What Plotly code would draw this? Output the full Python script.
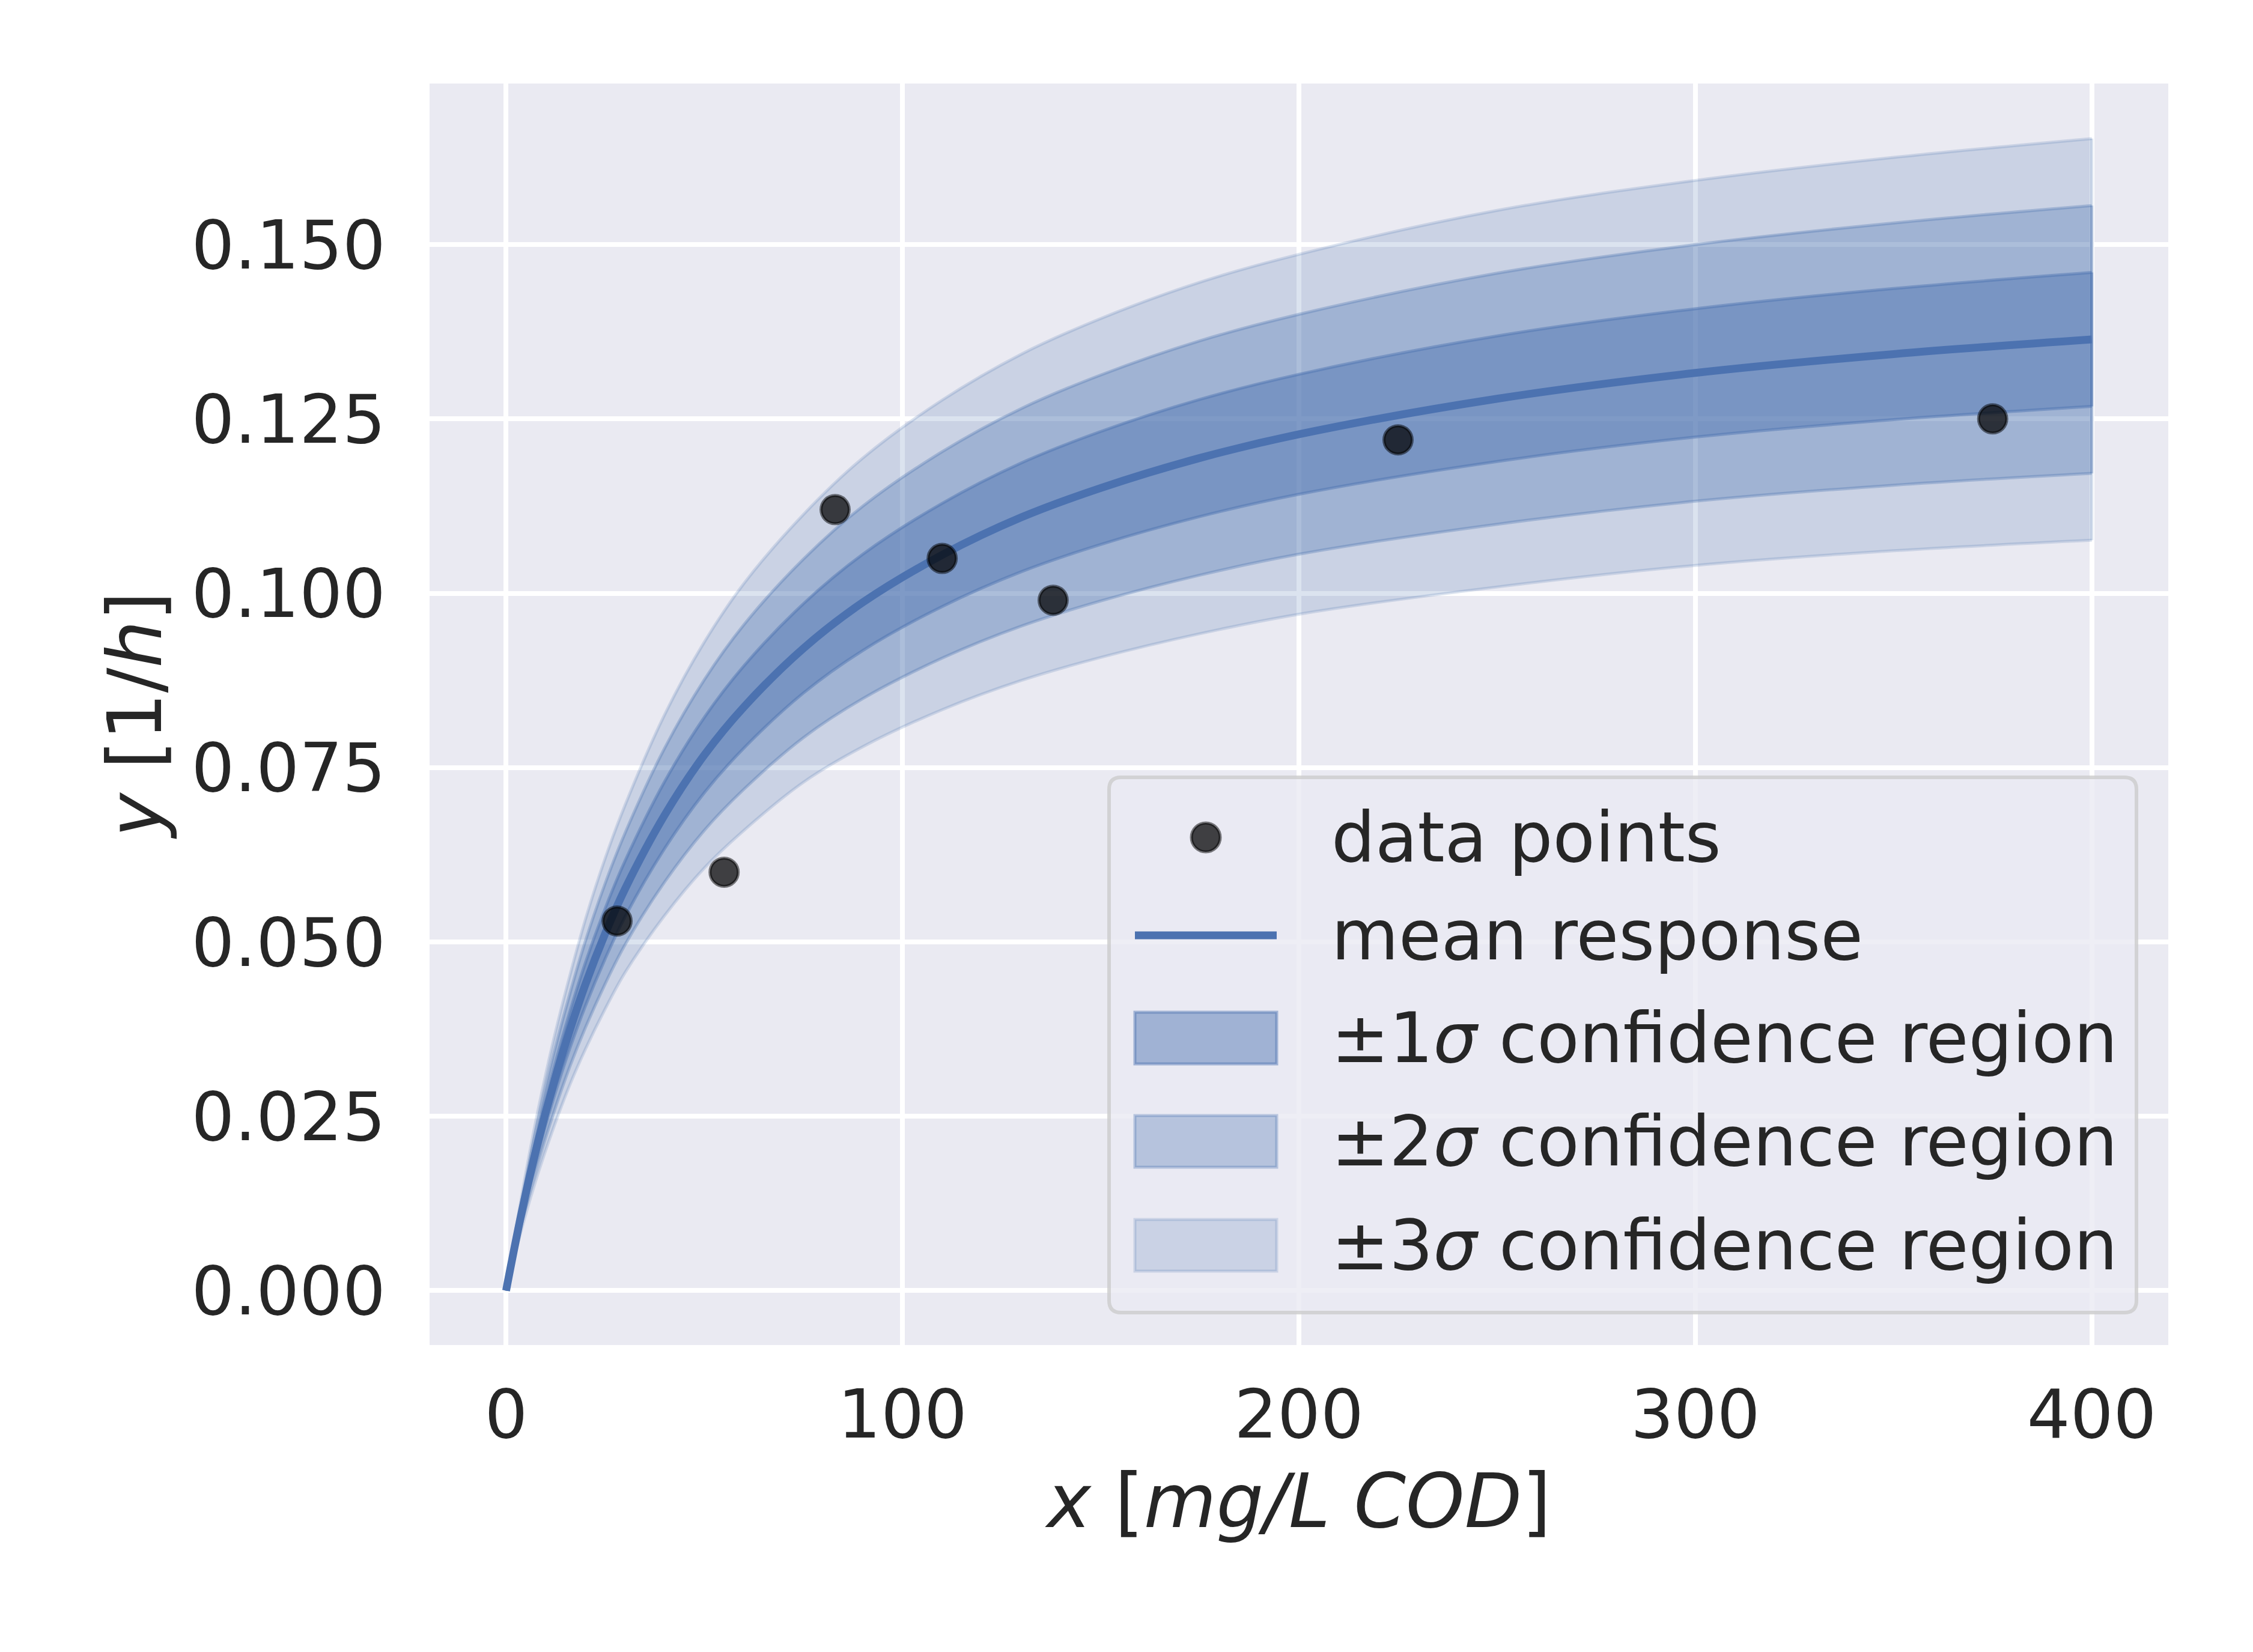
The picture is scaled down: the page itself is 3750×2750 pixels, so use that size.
import plotly.graph_objects as go

# ---------------- data ----------------
x_fit = [0, 4, 8, 12, 16, 20, 25, 30, 40, 50, 60, 75, 90, 110, 130, 150,
         175, 200, 250, 300, 350, 400]
mean_fit = [0.0, 0.0114, 0.0212, 0.0297, 0.0372, 0.0439, 0.0512, 0.0576,
            0.0682, 0.0768, 0.0837, 0.0921, 0.0987, 0.1055, 0.1109, 0.1151,
            0.1194, 0.1228, 0.1279, 0.1316, 0.1343, 0.1364]
sigma_fit = [0.0, 0.0008, 0.0015, 0.0021, 0.0026, 0.0031, 0.0036, 0.0040,
             0.0048, 0.0054, 0.0059, 0.0064, 0.0069, 0.0074, 0.0078, 0.0081,
             0.0084, 0.0086, 0.0090, 0.0092, 0.0094, 0.0096]
x_data = [28, 55, 83, 110, 138, 225, 375]
y_data = [0.053, 0.060, 0.112, 0.105, 0.099, 0.122, 0.125]
x_ticks = [0, 100, 200, 300, 400]
y_ticks = [0.000, 0.025, 0.050, 0.075, 0.100, 0.125, 0.150]
sigma_levels = [3, 2, 1]
legend_labels = ["data points", "mean response",
                 "±1<i>σ</i> confidence region",
                 "±2<i>σ</i> confidence region",
                 "±3<i>σ</i> confidence region"]

# ---------------- style ----------------
W, H = 3750, 2750
OFF = 8  # page body margin of the html page
L, R, T, B = 715 - OFF, 3609 - OFF, 139 - OFF, 2239 - OFF
FONT = "DejaVu Sans"
TXT = "#262626"
BLUE = "#4C72B0"
ALPHA = {1: 0.47, 2: 0.33, 3: 0.2}
EDGE_W = 5
TICK_FS, LEG_FS, TITLE_FS = 113, 115, 124


def band_color(k):
    return f"rgba(76,114,176,{ALPHA[k]})"


fig = go.Figure()

for k in sigma_levels:
    lo = [m - k * s for m, s in zip(mean_fit, sigma_fit)]
    up = [m + k * s for m, s in zip(mean_fit, sigma_fit)]
    c = band_color(k)
    fig.add_trace(go.Scatter(x=x_fit, y=lo, mode="lines",
                             line=dict(color=c, width=EDGE_W, shape="spline"),
                             showlegend=False, hoverinfo="skip"))
    fig.add_trace(go.Scatter(x=x_fit, y=up, mode="lines",
                             line=dict(color=c, width=EDGE_W, shape="spline"),
                             fill="tonexty", fillcolor=c,
                             showlegend=False, hoverinfo="skip"))
    fig.add_trace(go.Scatter(x=[x_fit[-1], x_fit[-1]], y=[lo[-1], up[-1]],
                             mode="lines", line=dict(color=c, width=EDGE_W),
                             showlegend=False, hoverinfo="skip"))

fig.add_trace(go.Scatter(x=x_fit, y=mean_fit, mode="lines",
                         line=dict(color=BLUE, width=13, shape="spline"),
                         showlegend=False))

fig.add_trace(go.Scatter(x=x_data, y=y_data, mode="markers",
                         marker=dict(size=47, color="rgba(0,0,0,0.73)",
                                     line=dict(color="rgba(0,0,0,0.5)", width=5)),
                         showlegend=False))

# ---------------- custom legend (matplotlib-like) ----------------
def px(xp):
    return (xp - OFF - L) / (R - L)


def py(yp):
    return (B - (yp - OFF)) / (B - T)


shapes = []
bx0, by0, bx1, by1 = 1846, 1294, 3556, 2185
r = 20
x0, x1 = px(bx0), px(bx1)
y0, y1 = py(by1), py(by0)
rx, ry = r / (R - L), r / (B - T)
path = (f"M {x0+rx},{y0} L {x1-rx},{y0} Q {x1},{y0} {x1},{y0+ry} "
        f"L {x1},{y1-ry} Q {x1},{y1} {x1-rx},{y1} "
        f"L {x0+rx},{y1} Q {x0},{y1} {x0},{y1-ry} "
        f"L {x0},{y0+ry} Q {x0},{y0} {x0+rx},{y0} Z")
shapes.append(dict(type="path", xref="paper", yref="paper", path=path,
                   fillcolor="rgba(234,234,242,0.8)",
                   line=dict(color="rgba(204,204,204,0.8)", width=6),
                   layer="above"))

rows = [1394, 1557, 1728, 1900, 2073]
sym_x0, sym_x1 = 1889, 2125
sym_cx = 2007
# marker
shapes.append(dict(type="circle", xref="paper", yref="paper",
                   x0=px(sym_cx - 24), x1=px(sym_cx + 24),
                   y0=py(rows[0] + 24), y1=py(rows[0] - 24),
                   fillcolor="rgba(0,0,0,0.73)",
                   line=dict(color="rgba(0,0,0,0.5)", width=5), layer="above"))
# line
shapes.append(dict(type="line", xref="paper", yref="paper",
                   x0=px(sym_x0), x1=px(sym_x1), y0=py(rows[1]), y1=py(rows[1]),
                   line=dict(color=BLUE, width=13), layer="above"))
# patches
for i, k in enumerate([1, 2, 3]):
    yc = rows[2 + i]
    shapes.append(dict(type="rect", xref="paper", yref="paper",
                       x0=px(sym_x0), x1=px(sym_x1),
                       y0=py(yc + 43), y1=py(yc - 43),
                       fillcolor=band_color(k),
                       line=dict(color=band_color(k), width=EDGE_W), layer="above"))

annotations = []
for lab, yc in zip(legend_labels, rows):
    annotations.append(dict(xref="paper", yref="paper", x=px(2214), y=py(yc),
                            xanchor="left", yanchor="middle", text=lab,
                            showarrow=False,
                            font=dict(family=FONT, size=LEG_FS, color=TXT)))

fig.update_layout(
    width=W, height=H,
    margin=dict(l=L, r=W - R, t=T, b=H - B, pad=0),
    paper_bgcolor="white", plot_bgcolor="#EAEAF2",
    font=dict(family=FONT, size=TICK_FS, color=TXT),
    shapes=shapes, annotations=annotations, showlegend=False,
)
fig.update_xaxes(range=[-19.3, 419.3], tickvals=x_ticks,
                 ticktext=[str(v) for v in x_ticks],
                 showgrid=True, gridcolor="white", gridwidth=8,
                 zeroline=False, showline=False, ticks="",
                 ticklabelstandoff=40,
                 tickfont=dict(family=FONT, size=TICK_FS, color=TXT),
                 title=dict(text="<i>x</i> [<i>mg/L COD</i>]", standoff=36,
                            font=dict(family=FONT, size=TITLE_FS, color=TXT)))
fig.update_yaxes(range=[-0.0078, 0.1731], tickvals=y_ticks,
                 ticktext=[f"{v:.3f}" for v in y_ticks],
                 showgrid=True, gridcolor="white", gridwidth=8,
                 zeroline=False, showline=False, ticks="",
                 ticklabelstandoff=72,
                 tickfont=dict(family=FONT, size=TICK_FS, color=TXT),
                 title=dict(text="<i>y</i> [1/<i>h</i>]", standoff=8,
                            font=dict(family=FONT, size=TITLE_FS, color=TXT)))

fig.write_html("out.html", config={"displayModeBar": False})
